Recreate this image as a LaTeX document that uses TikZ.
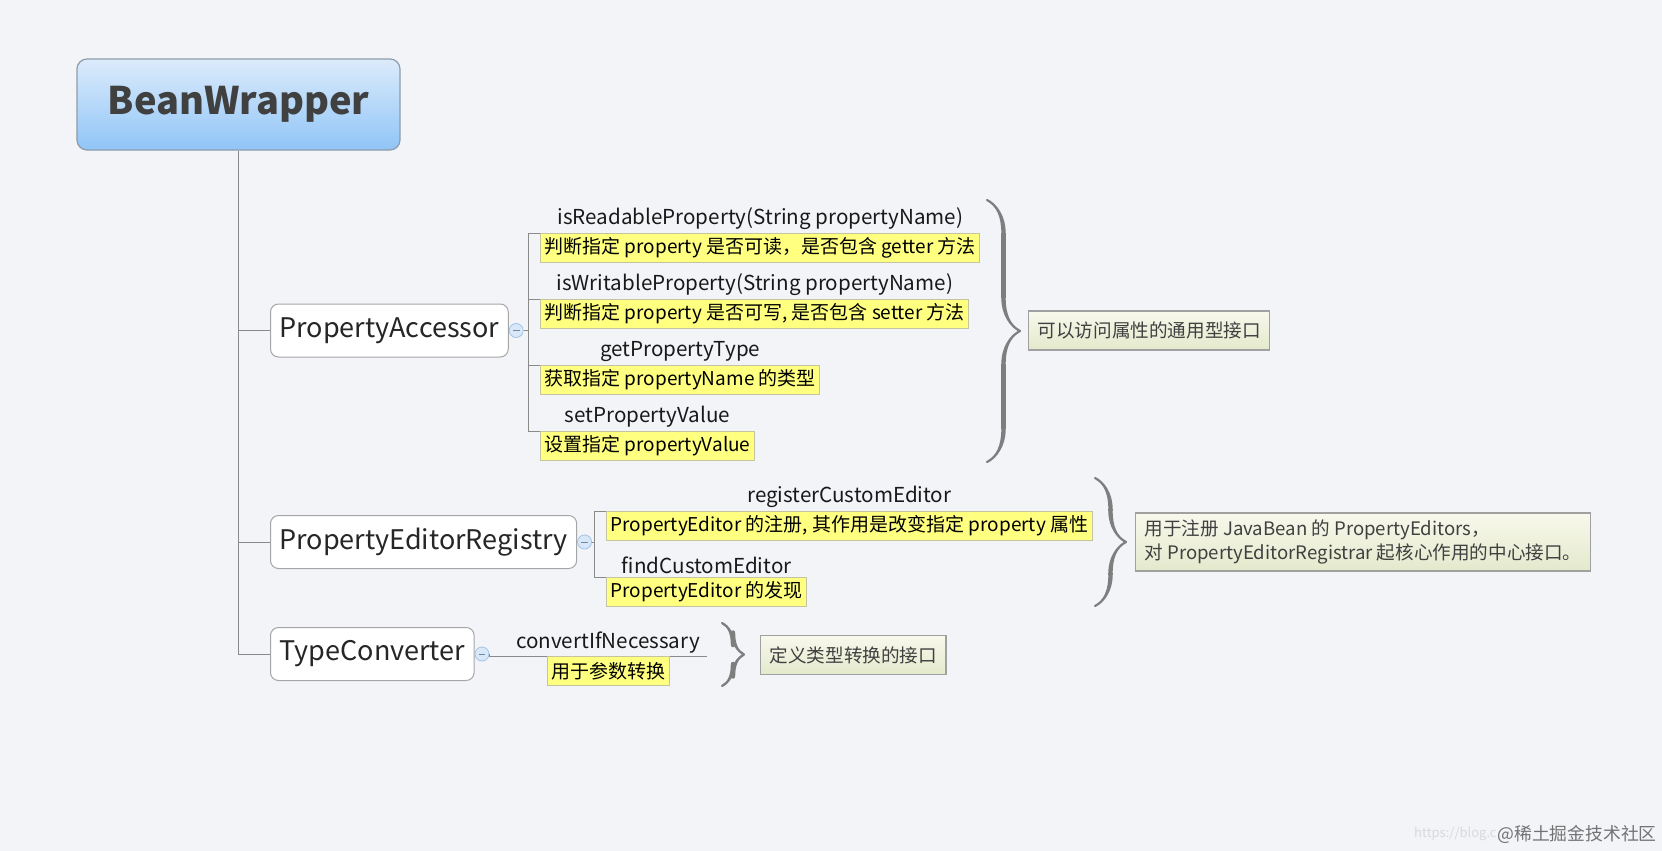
\documentclass[tikz,border=0pt]{standalone}
\usepackage{fontspec}
\setmainfont{Noto Sans CJK SC}
\usetikzlibrary{positioning,decorations.pathreplacing,calligraphy}

\definecolor{canvas}{HTML}{F2F4F8}
\definecolor{rootTop}{HTML}{DCEBFB}
\definecolor{rootBottom}{HTML}{90C5F7}
\definecolor{rootLine}{HTML}{8E9CAB}
\definecolor{topicLine}{HTML}{A6A6A6}
\definecolor{branchLine}{HTML}{8A8A8A}
\definecolor{noteFill}{HTML}{FFFF80}
\definecolor{noteLine}{HTML}{C4C4A0}
\definecolor{foldFill}{HTML}{D9E8F9}
\definecolor{foldLine}{HTML}{A3C2E8}
\definecolor{calloutTop}{HTML}{F8F8EC}
\definecolor{calloutBottom}{HTML}{E4E9CC}
\definecolor{calloutLine}{HTML}{A0A0A0}
\definecolor{braceGray}{HTML}{7E7E7E}

\begin{document}
\begin{tikzpicture}[
    x=0.5pt, y=-0.5pt,
    root/.style={rectangle, rounded corners=5pt, draw=rootLine, line width=0.6pt,
                 top color=rootTop, bottom color=rootBottom,
                 minimum width=161.5pt, minimum height=45.5pt, text=black!75,
                 font=\fontsize{19}{23}\selectfont\bfseries},
    topic/.style={rectangle, rounded corners=4pt, draw=topicLine, fill=white, line width=0.5pt,
                  minimum height=26.5pt, inner xsep=4.5pt, anchor=west, text=black!85,
                  font=\fontsize{13.5}{16}\selectfont},
    fold/.style={circle, draw=foldLine, fill=foldFill, minimum size=7pt, inner sep=0pt,
                 path picture={\draw[foldLine!70!black, line width=0.4pt]
                   ([xshift=1.8pt]path picture bounding box.west) --
                   ([xshift=-1.8pt]path picture bounding box.east);}},
    method/.style={inner sep=1pt, text=black!90, font=\fontsize{10.3}{12.5}\selectfont},
    note/.style={rectangle, draw=noteLine, fill=noteFill, line width=0.5pt,
                 inner xsep=2pt, inner ysep=1pt, minimum height=14.5pt,
                 font=\fontsize{9.5}{11.5}\selectfont},
    callout/.style={rectangle, draw=calloutLine, line width=0.6pt, anchor=west,
                    top color=calloutTop, bottom color=calloutBottom,
                    inner xsep=4.5pt, minimum height=19.5pt, align=left, text=black!75,
                    font=\fontsize{9.3}{12.2}\selectfont},
    branch/.style={draw=branchLine, line width=0.5pt},
    bracket/.style={decorate, decoration={calligraphic brace, amplitude=#1},
                    pen colour={braceGray}, line width=2.2pt}
]
\fill[canvas] (0,0) rectangle (1662,851);
\useasboundingbox (0,0) rectangle (1662,851);

% Root and first level
\node[root] (bw) at (238.5,104.5) {BeanWrapper};
\node[topic] (pa) at (270,330.5) {PropertyAccessor};
\node[topic] (per) at (270,542) {PropertyEditorRegistry};
\node[topic] (tc) at (270,654) {TypeConverter};

\draw[branch] (bw.south) |- (tc.west);
\draw[branch] (bw.south |- pa.west) -- (pa.west);
\draw[branch] (bw.south |- per.west) -- (per.west);

\node[fold, right=0pt of pa] (pafold) {};
\node[fold, right=0pt of per] (perfold) {};
\node[fold, right=0pt of tc] (tcfold) {};

% PropertyAccessor
\coordinate (pabus) at (528,330.5);
\node[note, anchor=north west] (n1) at (540,233) {判断指定 property 是否可读，是否包含 getter 方法};
\node[note, anchor=north west] (n2) at (540,299) {判断指定 property 是否可写, 是否包含 setter 方法};
\node[note, anchor=north west] (n3) at (540,365) {获取指定 propertyName 的类型};
\node[note, anchor=north west] (n4) at (540,431) {设置指定 propertyValue};
\node[method, above=0.5pt of n1] (m1) {isReadableProperty(String propertyName)};
\node[method, above=0.5pt of n2] (m2) {isWritableProperty(String propertyName)};
\node[method, above=0.5pt of n3] (m3) {getPropertyType};
\node[method, above=0.5pt of n4] (m4) {setPropertyValue};
\draw[branch] (pafold) -- (pabus);
\foreach \n in {n1,n2,n3,n4}
  \draw[branch] (pabus) |- (\n.north west);

% PropertyEditorRegistry
\coordinate (perbus) at (594,542);
\node[note, anchor=north west] (r1) at (606,511) {PropertyEditor 的注册, 其作用是改变指定 property 属性};
\node[note, anchor=north west] (r2) at (606,577) {PropertyEditor 的发现};
\node[method, above=0.5pt of r1] (k1) {registerCustomEditor};
\node[method, above=0.5pt of r2] (k2) {findCustomEditor};
\draw[branch] (perfold) -- (perbus);
\foreach \n in {r1,r2}
  \draw[branch] (perbus) |- (\n.north west);

% TypeConverter
\coordinate (tcend) at (707,656);
\draw[branch] (tcfold.east) -- (tcfold.east |- tcend) -- (tcend);
\node[note, anchor=north] (t1) at (608,656) {用于参数转换};
\node[method, above=0pt of t1] (c1m) {convertIfNecessary};

% Braces and summaries
\draw[bracket=16.5pt] (987,200) -- (987,462);
\draw[bracket=15.5pt] (1095,478) -- (1095,606);
\draw[bracket=11pt] (722,623) -- (722,686);
\node[callout] (s1) at (1028,330.5) {可以访问属性的通用型接口};
\node[callout] (s2) at (1135,542) {用于注册 JavaBean 的 PropertyEditors，\\对 PropertyEditorRegistrar 起核心作用的中心接口。};
\node[callout] (s3) at (760,655) {定义类型转换的接口};

% Watermark
\node[anchor=east, inner sep=0pt, text=black!15, font=\fontsize{6.5}{8}\selectfont] (url) at (1497,834) {https://blog.c};
\node[anchor=west, inner sep=0pt, text=black!55, font=\fontsize{8.9}{10}\selectfont] (mark) at (1497,834) {@稀土掘金技术社区};
\end{tikzpicture}
\end{document}
